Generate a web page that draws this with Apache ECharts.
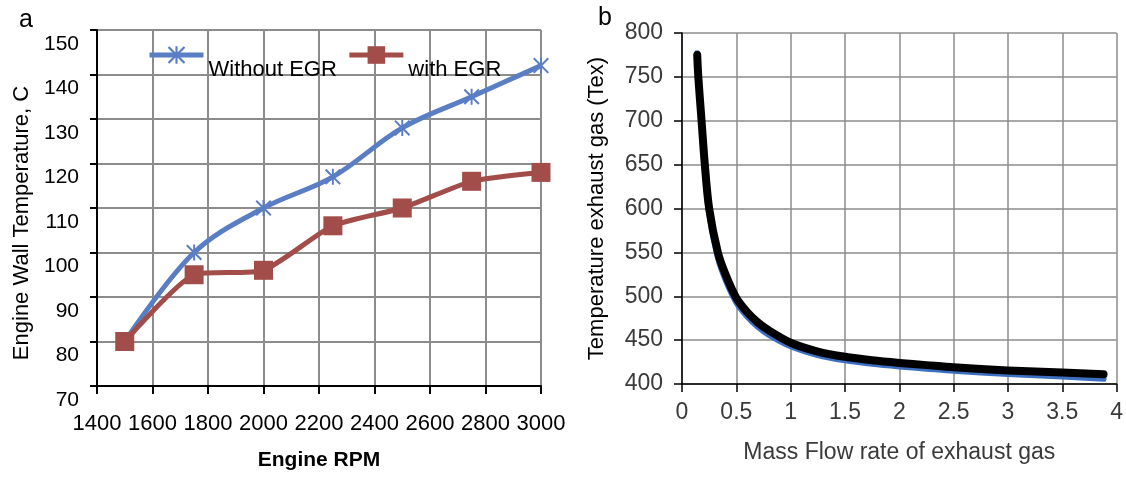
<!DOCTYPE html>
<html>
<head>
<meta charset="utf-8">
<script src="https://cdn.jsdelivr.net/npm/echarts@6/dist/echarts.min.js"></script>
<style>
html,body{margin:0;padding:0;background:#fff;}
#c{width:1126px;height:477px;}
</style>
</head>
<body>
<div id="c"></div>
<script>
// ---- Panel a data ----
var rpm = [1500, 1750, 2000, 2250, 2500, 2750, 3000];
var withoutEGR = [80, 100, 110, 117, 128, 135, 142];
var withEGR = [80, 95, 96, 106, 110, 116, 118];
var seriesNamesA = ['Without EGR', 'with EGR'];

// ---- Panel b data ----
var massFlow = [0.14, 0.15, 0.18, 0.21, 0.25, 0.33, 0.4, 0.5, 0.6, 0.7, 0.8, 1.0, 1.25, 1.5, 1.75, 2.0, 2.25, 2.5, 3.0, 3.5, 3.88];
var texBlack = [775, 750, 700, 650, 600, 550, 525, 498, 482, 470, 461, 447, 437, 431, 427, 424, 421.5, 419, 415.5, 413, 411];
var texBlue  = [777, 752, 698, 645, 594, 544, 519, 493, 477, 465, 456, 443, 433, 427, 423, 420, 417.5, 415, 411.5, 408.5, 406];

function pairs(xs, ys){ return xs.map(function(x,i){ return [x, ys[i]]; }); }

var FONT = 'Liberation Sans';
var asterisk = 'path://M4.4,0 L5.6,0 L5.6,10 L4.4,10 Z M0,0.9 L0.9,0 L10,9.1 L9.1,10 Z M10,0.9 L0.9,10 L0,9.1 L9.1,0 Z';
var BLUE = '#5a7ec4', RED = '#a24d4a';

var chart = echarts.init(document.getElementById('c'));
chart.setOption({
  backgroundColor: '#fff',
  animation: false,
  textStyle: {fontFamily: FONT},
  title: [
    {text: 'a', left: 14, top: 3, textStyle: {fontFamily: FONT, fontSize: 25, fontWeight: 'normal', color: '#000'}},
    {text: 'b', left: 593, top: 1, textStyle: {fontFamily: FONT, fontSize: 25, fontWeight: 'normal', color: '#000'}}
  ],
  legend: {
    data: seriesNamesA,
    left: 142, top: 20,
    itemWidth: 54, itemHeight: 22, itemGap: 10,
    lineStyle: {width: 5},
    formatter: function(n){ return '\n' + n; },
    textStyle: {fontFamily: FONT, fontSize: 22, color: '#000', lineHeight: 30}
  },
  grid: [
    {left: 97, top: 30, width: 444, height: 356},
    {left: 682, top: 33, width: 435, height: 351}
  ],
  xAxis: [
    {
      gridIndex: 0, type: 'value', min: 1400, max: 3000, interval: 200,
      name: 'Engine RPM', nameLocation: 'middle', nameGap: 64,
      nameTextStyle: {fontFamily: FONT, fontSize: 21, fontWeight: 'bold', color: '#000'},
      axisLine: {show: true, lineStyle: {color: '#000', width: 2}},
      axisTick: {show: true, length: 8, lineStyle: {color: '#000', width: 2}},
      axisLabel: {fontFamily: FONT, fontSize: 22, color: '#000', margin: 27, showMinLabel: true, showMaxLabel: true,
                  formatter: function(v){ return String(v); }},
      splitLine: {show: true, lineStyle: {color: '#8c8c8c', width: 2}}
    },
    {
      gridIndex: 1, type: 'value', min: 0, max: 4, interval: 0.5,
      name: 'Mass Flow rate of exhaust gas', nameLocation: 'middle', nameGap: 57,
      nameTextStyle: {fontFamily: FONT, fontSize: 23, color: '#3a3a3a'},
      axisLine: {show: true, lineStyle: {color: '#000', width: 1.5}},
      axisTick: {show: true, length: 8, lineStyle: {color: '#000', width: 1.5}},
      axisLabel: {fontFamily: FONT, fontSize: 23, color: '#3a3a3a', margin: 17, showMinLabel: true, showMaxLabel: true},
      splitLine: {show: true, lineStyle: {color: '#8c8c8c', width: 1.5}}
    }
  ],
  yAxis: [
    {
      gridIndex: 0, type: 'value', min: 70, max: 150, interval: 10,
      name: 'Engine Wall Temperature, C', nameLocation: 'middle', nameGap: 64,
      nameTextStyle: {fontFamily: FONT, fontSize: 22, color: '#000', padding: [0, 30, 0, 0]},
      axisLine: {show: true, lineStyle: {color: '#000', width: 2}},
      axisTick: {show: true, length: 7, lineStyle: {color: '#000', width: 2}},
      axisLabel: {fontFamily: FONT, fontSize: 21, color: '#000', margin: 18, verticalAlign: 'top', lineHeight: 28,
                  showMinLabel: true, showMaxLabel: true},
      splitLine: {show: true, lineStyle: {color: '#8c8c8c', width: 2}}
    },
    {
      gridIndex: 1, type: 'value', min: 400, max: 800, interval: 50,
      name: 'Temperature exhaust gas (Tex)', nameLocation: 'middle', nameGap: 74,
      nameTextStyle: {fontFamily: FONT, fontSize: 22, color: '#000'},
      axisLine: {show: true, lineStyle: {color: '#000', width: 1.5}},
      axisTick: {show: true, length: 8, lineStyle: {color: '#000', width: 1.5}},
      axisLabel: {fontFamily: FONT, fontSize: 23, color: '#3a3a3a', margin: 19, showMinLabel: true, showMaxLabel: true},
      splitLine: {show: true, lineStyle: {color: '#8c8c8c', width: 1.5}}
    }
  ],
  series: [
    {
      name: seriesNamesA[0], type: 'line', xAxisIndex: 0, yAxisIndex: 0,
      data: pairs(rpm, withoutEGR), smooth: 0.35,
      symbol: asterisk, symbolSize: 16,
      lineStyle: {color: BLUE, width: 5}, itemStyle: {color: BLUE}
    },
    {
      name: seriesNamesA[1], type: 'line', xAxisIndex: 0, yAxisIndex: 0,
      data: pairs(rpm, withEGR), smooth: 0.2,
      symbol: 'rect', symbolSize: 19,
      lineStyle: {color: RED, width: 5}, itemStyle: {color: RED}
    },
    {
      name: 'blue', type: 'line', xAxisIndex: 1, yAxisIndex: 1,
      data: pairs(massFlow, texBlue), smooth: 0.3, showSymbol: false,
      lineStyle: {color: '#3d6fc1', width: 6, cap: 'round', join: 'round'}
    },
    {
      name: 'black', type: 'line', xAxisIndex: 1, yAxisIndex: 1,
      data: pairs(massFlow, texBlack), smooth: 0.3, showSymbol: false,
      lineStyle: {color: '#000', width: 8, cap: 'round', join: 'round'}
    }
  ]
});
</script>
</body>
</html>
